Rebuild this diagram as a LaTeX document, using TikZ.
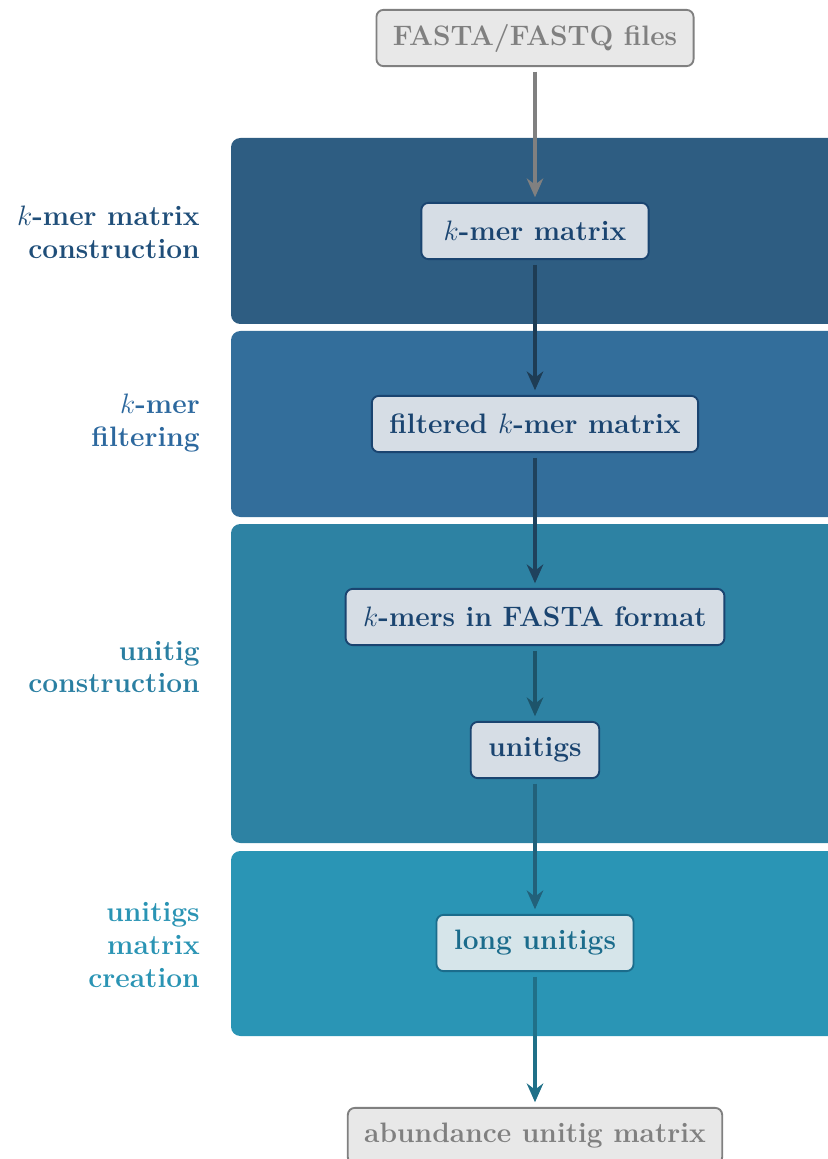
\documentclass[tikz,border=0pt]{standalone}
\usetikzlibrary{arrows.meta}

\definecolor{bandA}{RGB}{46,93,130}
\definecolor{bandB}{RGB}{51,110,155}
\definecolor{bandC}{RGB}{45,130,163}
\definecolor{bandD}{RGB}{42,149,181}
\definecolor{labelA}{RGB}{31,78,121}
\definecolor{labelB}{RGB}{44,104,158}
\definecolor{labelC}{RGB}{42,127,162}
\definecolor{labelD}{RGB}{42,148,180}
\definecolor{inkDark}{RGB}{26,68,112}
\definecolor{inkTeal}{RGB}{27,108,140}
\definecolor{ioGray}{RGB}{128,128,128}

\tikzset{
  stage/.style={draw=#1, text=#1, fill=#1!18!white, rounded corners=3pt,
    line width=0.8pt, minimum height=24pt, inner xsep=7.5pt, font=\large\bfseries},
  iofile/.style={draw=ioGray, text=ioGray, fill=black!9, rounded corners=3pt,
    line width=0.8pt, minimum height=24pt, inner xsep=7pt, font=\large\bfseries},
  flow/.style={draw=#1, line width=1.7pt, -{Stealth[length=8pt,width=7pt]},
    shorten <=2pt, shorten >=2pt},
  phase/.style={anchor=east, align=right, text=#1, font=\large\bfseries}
}

\begin{document}
\begin{tikzpicture}

\clip (0,0) rectangle (12.42,-17.385);

\draw[draw=none,fill=bandA,rounded corners=4pt] (3.465,-4.86) rectangle ++ (10,2.79);
\draw[draw=none,fill=bandB,rounded corners=4pt] (3.465,-7.755) rectangle ++ (10,2.79);
\draw[draw=none,fill=bandC,rounded corners=4pt] (3.465,-12.645) rectangle ++ (10,4.785);
\draw[draw=none,fill=bandD,rounded corners=4pt] (3.465,-15.54) rectangle ++ (10,2.775);

\path (3.12,-3.48) node[phase=labelA] (lblmatrix) {$k$-mer matrix\\ construction};
\path (3.12,-6.345) node[phase=labelB] (lblfilter) {$k$-mer\\ filtering};
\path (3.12,-10.005) node[phase=labelC] (lblunitig) {unitig\\ construction};
\path (3.12,-14.175) node[phase=labelD] (lblcreate) {unitigs\\ matrix\\ creation};

\path (8.025,-0.57) node[iofile] (fastq) {FASTA/FASTQ files};
\path (8.025,-3.465) node[stage=inkDark,minimum width=97pt] (kmat) {$k$-mer matrix};
\path (8.025,-6.36) node[stage=inkDark] (kfilt) {filtered $k$-mer matrix};
\path (8.025,-9.255) node[stage=inkDark] (kfasta) {$k$-mers in FASTA format};
\path (8.025,-11.25) node[stage=inkDark] (utigs) {unitigs};
\path (8.025,-14.145) node[stage=inkTeal] (lutigs) {long unitigs};
\path (8.025,-17.04) node[iofile] (abund) {abundance unitig matrix};

\draw[flow=ioGray] (fastq) -- (kmat);
\draw[flow=bandA!65!black] (kmat) -- (kfilt);
\draw[flow=bandB!60!black] (kfilt) -- (kfasta);
\draw[flow=bandC!65!black] (kfasta) -- (utigs);
\draw[flow=bandC!75!black] (utigs) -- (lutigs);
\draw[flow=bandD!75!black] (lutigs) -- (abund);

\end{tikzpicture}
\end{document}
